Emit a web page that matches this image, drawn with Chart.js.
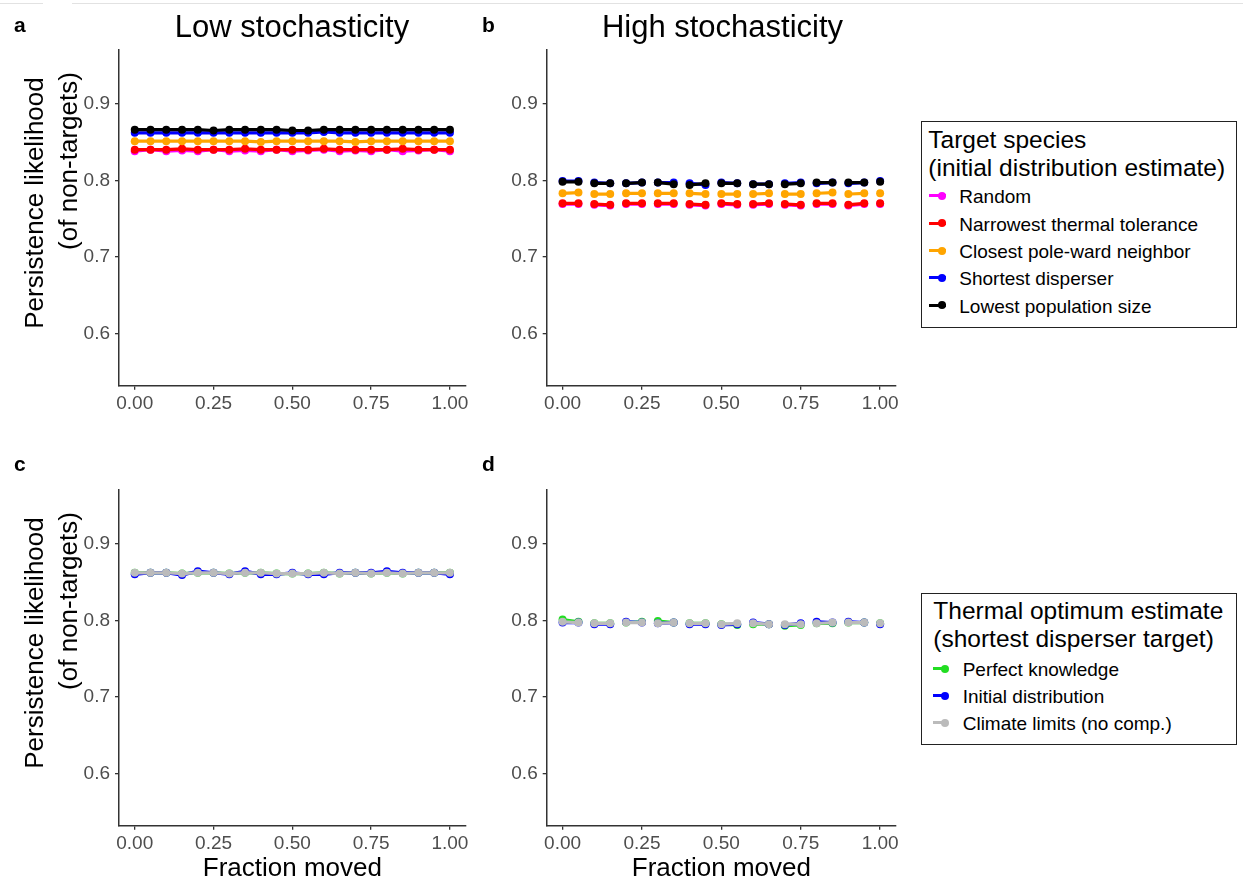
<!DOCTYPE html>
<html><head><meta charset="utf-8">
<script src="https://cdn.jsdelivr.net/npm/chart.js@4.4.1/dist/chart.umd.min.js"></script>
<style>
body{margin:0;background:#fff;font-family:"Liberation Sans",Arial,sans-serif;}
#wrap{position:relative;width:1243px;height:884px;overflow:hidden;background:#fff;}
canvas{position:absolute;}
.t{position:absolute;line-height:1;white-space:nowrap;color:#000;}
.rot{position:absolute;line-height:1;white-space:nowrap;color:#000;width:400px;text-align:center;transform:rotate(-90deg);}
.box{position:absolute;border:1.5px solid #222;box-sizing:border-box;background:#fff;}
.kl{position:absolute;height:3px;}
.kd{position:absolute;width:8px;height:8px;border-radius:50%;}
</style>
</head><body>
<div id="wrap">
<div style="position:absolute;left:0;top:3px;width:43px;height:1px;background:#e2e2e2"></div>
<div style="position:absolute;left:72px;top:3px;width:1171px;height:1px;background:#e2e2e2"></div>
<canvas id="ca" width="480" height="440" style="left:0;top:0"></canvas>
<canvas id="cb" width="420" height="440" style="left:480px;top:0"></canvas>
<canvas id="cc" width="480" height="444" style="left:0;top:440px"></canvas>
<canvas id="cd" width="420" height="444" style="left:480px;top:440px"></canvas>
<div class="box" style="left:921px;top:121px;width:316px;height:207px"></div>
<div class="box" style="left:921px;top:593px;width:316px;height:152px"></div>
</div>
<script>
// ---------- data ----------
const fractionMoved = [0.00,0.05,0.10,0.15,0.20,0.25,0.30,0.35,0.40,0.45,0.50,0.55,0.60,0.65,0.70,0.75,0.80,0.85,0.90,0.95,1.00];
const xTicks = [0, 0.25, 0.5, 0.75, 1];
const yTicks = [0.6, 0.7, 0.8, 0.9];
const panelTitles = ['Low stochasticity', 'High stochasticity'];
const panelLetters = ['a', 'b', 'c', 'd'];
const yTitleLines = ['Persistence likelihood', '(of non-targets)'];
const xTitle = 'Fraction moved';

const targetTitle = ['Target species', '(initial distribution estimate)'];
const targetNames = ['Random', 'Narrowest thermal tolerance', 'Closest pole-ward neighbor', 'Shortest disperser', 'Lowest population size'];
const targetColors = ['#ff00ff', '#ff0000', '#ffa500', '#0000ff', '#000000'];

// panel a: low stochasticity, target species
const lowRandom = [0.838,0.840,0.838,0.839,0.838,0.840,0.838,0.839,0.838,0.840,0.838,0.839,0.840,0.838,0.839,0.838,0.840,0.838,0.839,0.840,0.838];
const lowNarrow = [0.840,0.840,0.840,0.841,0.840,0.840,0.840,0.841,0.840,0.840,0.840,0.840,0.841,0.840,0.840,0.840,0.840,0.841,0.840,0.840,0.840];
const lowPole   = [0.851,0.851,0.851,0.851,0.851,0.851,0.851,0.851,0.850,0.851,0.851,0.851,0.851,0.851,0.850,0.851,0.851,0.851,0.851,0.851,0.851];
const lowShort  = [0.862,0.862,0.862,0.862,0.862,0.862,0.862,0.862,0.862,0.862,0.862,0.862,0.863,0.862,0.862,0.862,0.862,0.862,0.862,0.862,0.862];
const lowPop    = [0.866,0.866,0.866,0.866,0.866,0.865,0.866,0.866,0.866,0.866,0.865,0.865,0.866,0.866,0.866,0.866,0.866,0.866,0.866,0.866,0.866];

// panel b: high stochasticity, target species
const highRandom = [0.769,0.769,0.768,0.767,0.769,0.769,0.769,0.769,0.768,0.767,0.769,0.768,0.768,0.769,0.768,0.767,0.769,0.769,0.767,0.769,0.769];
const highNarrow = [0.770,0.770,0.769,0.768,0.770,0.770,0.770,0.770,0.769,0.768,0.770,0.769,0.769,0.770,0.769,0.768,0.770,0.770,0.768,0.770,0.770];
const highPole   = [0.783,0.784,0.782,0.782,0.783,0.783,0.783,0.783,0.783,0.782,0.782,0.782,0.782,0.783,0.782,0.782,0.783,0.784,0.782,0.783,0.783];
const highShort  = [0.799,0.799,0.797,0.796,0.796,0.797,0.797,0.797,0.796,0.794,0.797,0.796,0.795,0.795,0.796,0.797,0.796,0.797,0.796,0.797,0.799];
const highPop    = [0.798,0.798,0.796,0.796,0.796,0.797,0.797,0.795,0.794,0.796,0.796,0.796,0.795,0.795,0.795,0.796,0.797,0.797,0.797,0.797,0.798];

const thermalTitle = ['Thermal optimum estimate', '(shortest disperser target)'];
const thermalNames = ['Perfect knowledge', 'Initial distribution', 'Climate limits (no comp.)'];
const thermalColors = ['#22dd22', '#0000ff', '#bbbbbb'];

// panel c: low stochasticity, thermal optimum estimate
const lowPerfect = [0.862,0.862,0.862,0.861,0.862,0.862,0.861,0.862,0.862,0.861,0.861,0.861,0.862,0.861,0.862,0.861,0.862,0.861,0.862,0.862,0.862];
const lowInitial = [0.860,0.862,0.862,0.859,0.864,0.862,0.860,0.864,0.860,0.860,0.862,0.860,0.860,0.862,0.862,0.862,0.864,0.862,0.862,0.862,0.860];
const lowClimate = [0.862,0.862,0.862,0.861,0.862,0.862,0.861,0.862,0.862,0.861,0.861,0.861,0.862,0.861,0.862,0.861,0.862,0.861,0.862,0.862,0.862];

// panel d: high stochasticity, thermal optimum estimate
const highPerfect = [0.801,0.798,0.796,0.796,0.797,0.798,0.799,0.797,0.796,0.796,0.795,0.794,0.795,0.795,0.793,0.794,0.796,0.796,0.797,0.797,0.796];
const highInitial = [0.797,0.797,0.795,0.795,0.798,0.797,0.796,0.797,0.795,0.795,0.794,0.795,0.797,0.795,0.794,0.796,0.798,0.797,0.798,0.797,0.795];
const highClimate = [0.798,0.797,0.796,0.796,0.797,0.797,0.796,0.797,0.796,0.796,0.795,0.796,0.796,0.795,0.795,0.795,0.796,0.797,0.797,0.797,0.796];

// ---------- chart helpers ----------
const FONT = "'Liberation Sans', Arial, sans-serif";
Chart.defaults.font.family = FONT;

function pts(ys){ return fractionMoved.map((x,i)=>({x:x, y:ys[i]})); }
function makeSets(seriesList, names, colors, dashed){
  const n = seriesList.length;
  return seriesList.map((ys,i)=>({
    label:names[i], data:pts(ys), borderColor:colors[i], backgroundColor:colors[i],
    pointBackgroundColor:colors[i], pointBorderColor:colors[i], pointRadius:4, pointBorderWidth:0,
    borderWidth:3.2, borderDash: dashed ? [16,16] : [], tension:0, fill:false, order:n-1-i
  }));
}
function makeChart(id, datasets, cfg){
  new Chart(document.getElementById(id), {
    type:'line',
    data:{datasets:datasets},
    options:{
      responsive:false, animation:false, events:[],
      layout:{padding:cfg.pad},
      plugins:{legend:{display:false}, tooltip:{enabled:false}, title:{display:false}},
      scales:{
        x:{
          type:'linear', min:-0.05, max:1.05,
          afterBuildTicks:s=>{ s.ticks = xTicks.map(v=>({value:v})); },
          afterFit:s=>{ s.height = cfg.xh; s.paddingLeft = 0; s.paddingRight = 0; },
          ticks:{callback:v=>Number(v).toFixed(2), color:'#4d4d4d', font:{size:19}, padding:3, maxRotation:0, autoSkip:false},
          grid:{drawOnChartArea:false, drawTicks:true, tickLength:4, color:'#333', lineWidth:1.3},
          border:{display:true, color:'#333', width:1.5},
          title: cfg.xTitle ? {display:true, text:cfg.xTitle, color:'#000', font:{size:26, lineHeight:1.2}, padding:{top:0,bottom:0}} : {display:false}
        },
        y:{
          type:'linear', min:0.532, max:0.97,
          afterBuildTicks:s=>{ s.ticks = yTicks.map(v=>({value:v})); },
          afterFit:s=>{ s.width = cfg.yw; s.paddingTop = 0; s.paddingBottom = 0; },
          ticks:{callback:v=>Number(v).toFixed(1), color:'#4d4d4d', font:{size:19}, padding:5},
          grid:{drawOnChartArea:false, drawTicks:true, tickLength:4, color:'#333', lineWidth:1.3},
          border:{display:true, color:'#333', width:1.5}
        }
      }
    }
  });
}

makeChart('ca', makeSets([lowRandom,lowNarrow,lowPole,lowShort,lowPop], targetNames, targetColors, false),
  {pad:{left:16, top:50, right:14.3, bottom:14.3}, yw:103, xh:40});
makeChart('cb', makeSets([highRandom,highNarrow,highPole,highShort,highPop], targetNames, targetColors, true),
  {pad:{left:10, top:50, right:1.7, bottom:14.3}, yw:56.7, xh:40});
makeChart('cc', makeSets([lowPerfect,lowInitial,lowClimate], thermalNames, thermalColors, false),
  {pad:{left:16, top:50, right:14.3, bottom:0}, yw:103, xh:58.3, xTitle:xTitle});
makeChart('cd', makeSets([highPerfect,highInitial,highClimate], thermalNames, thermalColors, true),
  {pad:{left:10, top:50, right:1.7, bottom:0}, yw:56.7, xh:58.3, xTitle:xTitle});

// ---------- text overlays ----------
const wrap = document.getElementById('wrap');
function txt(s, x, baseline, size, opts){
  opts = opts || {};
  const d = document.createElement('div');
  d.className = 't';
  d.textContent = s;
  d.style.fontSize = size + 'px';
  if (opts.bold) d.style.fontWeight = 'bold';
  if (opts.color) d.style.color = opts.color;
  d.style.top = (baseline - 0.8465*size) + 'px';
  d.style.left = x + 'px';
  if (opts.center) d.style.transform = 'translateX(-50%)';
  wrap.appendChild(d);
}
function rot(s, cx, cy, size){
  const d = document.createElement('div');
  d.className = 'rot';
  d.textContent = s;
  d.style.fontSize = size + 'px';
  d.style.left = (cx - 200) + 'px';
  d.style.top = (cy - size/2) + 'px';
  wrap.appendChild(d);
}
// panel titles and letters
txt(panelTitles[0], 292, 37, 31, {center:true});
txt(panelTitles[1], 722.5, 37, 31, {center:true});
txt(panelLetters[0], 14, 31.5, 21, {bold:true});
txt(panelLetters[1], 482, 31.5, 21, {bold:true});
txt(panelLetters[2], 14, 471, 21, {bold:true});
txt(panelLetters[3], 482, 471, 21, {bold:true});
// y titles
[0, 440].forEach(off=>{
  rot(yTitleLines[0], 34, 202.5 + off, 26);
  rot(yTitleLines[1], 68, 161 + off, 26);
});
// legends
function legend(title, names, colors, tx, tBase, ix, iBase, step, keyX0, keyX1, dotX){
  title.forEach((s,i)=>txt(s, tx, tBase + i*28, 24.5));
  names.forEach((s,i)=>{
    const b = iBase + i*step;
    txt(s, ix, b, 19);
    const ky = b - 7.5;
    const l = document.createElement('div'); l.className='kl';
    l.style.left = keyX0+'px'; l.style.width=(keyX1-keyX0)+'px'; l.style.top=(ky-1.5)+'px'; l.style.background=colors[i];
    wrap.appendChild(l);
    const dd = document.createElement('div'); dd.className='kd';
    dd.style.left=(dotX-4)+'px'; dd.style.top=(ky-4)+'px'; dd.style.background=colors[i];
    wrap.appendChild(dd);
  });
}
legend(targetTitle, targetNames, targetColors, 928.3, 149, 959.3, 203.3, 27.35, 929, 946, 941.7);
legend(thermalTitle, thermalNames, thermalColors, 933.3, 619.3, 962.7, 676, 27.1, 933, 948, 945);
</script>
</body></html>
